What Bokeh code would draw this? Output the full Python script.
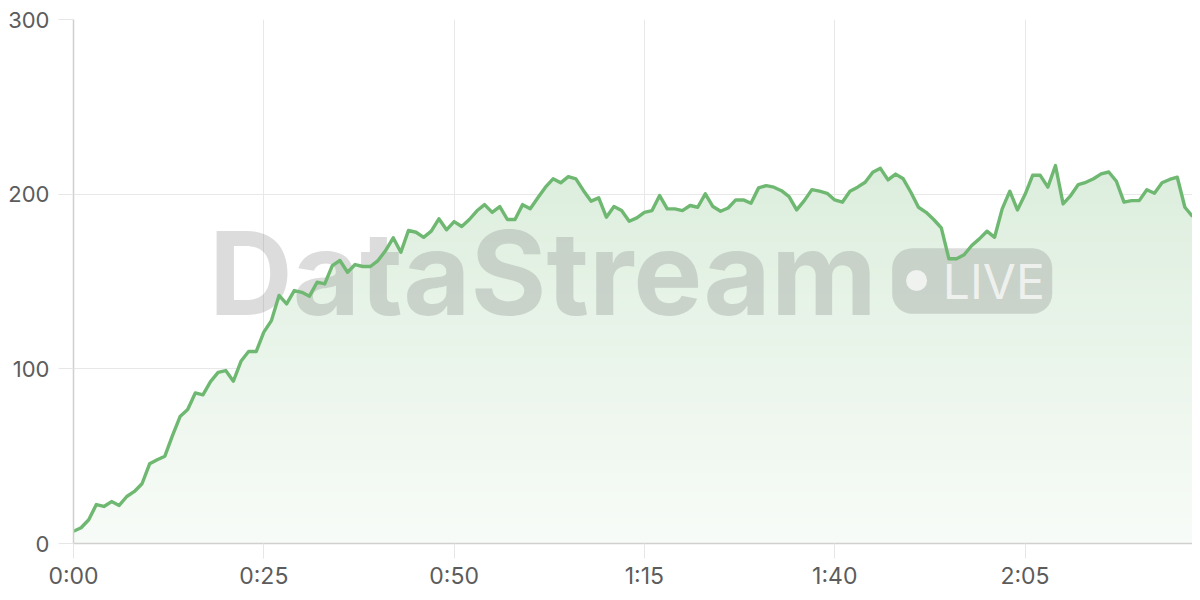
import numpy as np
from bokeh.plotting import figure
from bokeh.models import FixedTicker
from bokeh.core.properties import value
from bokeh.embed import file_html
from bokeh.resources import INLINE

# ---- data -------------------------------------------------------------
seconds = list(range(148))
viewers = [
    7, 9, 13.6, 22.3, 21.2, 24, 21.8, 26.9, 29.8, 34.2,
    45.6, 47.9, 50, 61.8, 72.7, 76.7, 86.2, 85.1, 92.7, 98,
    99, 92.9, 104.3, 109.9, 109.9, 121, 127.6, 142,
    137.2, 144.8, 143.8, 141.6, 149.6, 148.6, 159.1, 162, 155.3, 159.7,
    158.6, 158.6, 162, 167.7, 175, 166.7, 179.2, 178.2, 175.3, 178.8,
    185.9, 179.6, 184.3, 181.5, 185.5, 190.5,
    194, 189.6, 192.9, 185.5, 185.5, 194, 191.6, 197.9, 204, 208.8,
    206.5, 210, 208.8, 202, 196, 197.9, 186.8, 192.9, 190.6, 184.5,
    186.4, 189.6, 190.6, 199.2, 191.6, 191.6, 190.6,
    193.5, 192.5, 200.2, 192.9, 190.2, 192.1, 196.7, 196.7, 194.8, 203.6,
    204.9, 204, 202, 198.6, 191, 196.3, 202.6, 201.7, 200.5, 196.7,
    195.4, 201.7, 204, 206.8, 212.5,
    214.8, 208.2, 211.5, 208.8, 201.1, 192.5, 189.6, 185.5, 180.7, 163,
    163, 165.3, 170.6, 174.4, 178.8, 175.3, 191.6, 201.7, 191, 199.8,
    210.8, 210.8, 204, 216.4, 194.4, 199.2, 205.5, 206.8, 208.8, 211.6,
    212.7, 207.4, 195.4, 196.3, 196.3, 202.5, 200.5, 206.5, 208.4, 209.7,
    192.5, 187.2,
]
x_ticks = [0, 25, 50, 75, 100, 125]
x_tick_labels = ["0:00", "0:25", "0:50", "1:15", "1:40", "2:05"]
y_ticks = [0, 100, 200, 300]

# ---- style ------------------------------------------------------------
LINE_RGB = (111, 184, 114)
LINE = "#%02x%02x%02x" % LINE_RGB
FONT = "Inter"


def blend(rgb, a):
    c = [round(255 - a * (255 - v)) for v in rgb]
    return "#%02x%02x%02x" % tuple(c)


p = figure(
    width=1192, height=592,
    x_range=(0, 147), y_range=(0, 300),
    output_backend="svg", toolbar_location=None,
    min_border_left=73, min_border_right=0,
    min_border_top=19, min_border_bottom=49,
)
p.outline_line_color = None
p.background_fill_color = "white"
p.border_fill_color = "white"

x = np.array(seconds, dtype=float)
y = np.array(viewers, dtype=float)
ymax = y.max()

# gradient area: nested layers, darker at top, lighter toward the bottom
for h in np.linspace(ymax, 0, 60)[:-1]:
    a = 0.05 + 0.19 * (h / ymax)
    p.varea(x=x, y1=np.zeros_like(y), y2=np.minimum(y, h), fill_color=blend(LINE_RGB, a))

# watermark (under the line)
WM = "#808080"
WM_ALPHA = 0.28
p.quad(left=[107.55], right=[128.57], bottom=[131.5], top=[169.1],
       border_radius=20, fill_color=WM, fill_alpha=WM_ALPHA, line_color=None)
p.scatter(x=[110.75], y=[150.6], size=21, fill_color="white", fill_alpha=0.7,
          line_color=None)
p.text(x=[17.8], y=[154.6], text=["DataStream"], text_font=value(FONT),
       text_font_style="bold", text_font_size="116px", text_color=WM,
       text_alpha=WM_ALPHA, text_baseline="alphabetic", text_align="left")
p.text(x=[114.2], y=[149.8], text=["LIVE"], text_font=value(FONT),
       text_font_size="48px", text_color="white", text_alpha=0.7,
       text_baseline="alphabetic", text_align="left")

# the line
p.line(x, y, line_color=LINE, line_width=3.4, line_join="round")

# axes
p.xaxis.ticker = FixedTicker(ticks=x_ticks)
p.xaxis.major_label_overrides = dict(zip(x_ticks, x_tick_labels))
p.yaxis.ticker = FixedTicker(ticks=y_ticks)
for ax in (p.xaxis[0], p.yaxis[0]):
    ax.axis_line_color = "#d0d0d0"
    ax.axis_line_width = 1.5
    ax.major_tick_line_color = "#e6e6e6"
    ax.major_tick_out = 15
    ax.major_tick_in = 0
    ax.minor_tick_line_color = None
    ax.major_label_text_font = FONT
    ax.major_label_text_color = "#5c5c5c"
p.yaxis.major_label_text_font_size = "22px"
p.yaxis.major_label_standoff = 9
p.xaxis.major_label_text_font_size = "23px"
p.xaxis.major_label_standoff = 3
p.grid.grid_line_color = "#e8e8e8"
p.grid.grid_line_width = 1

open("out.html", "w").write(file_html(p, INLINE))
